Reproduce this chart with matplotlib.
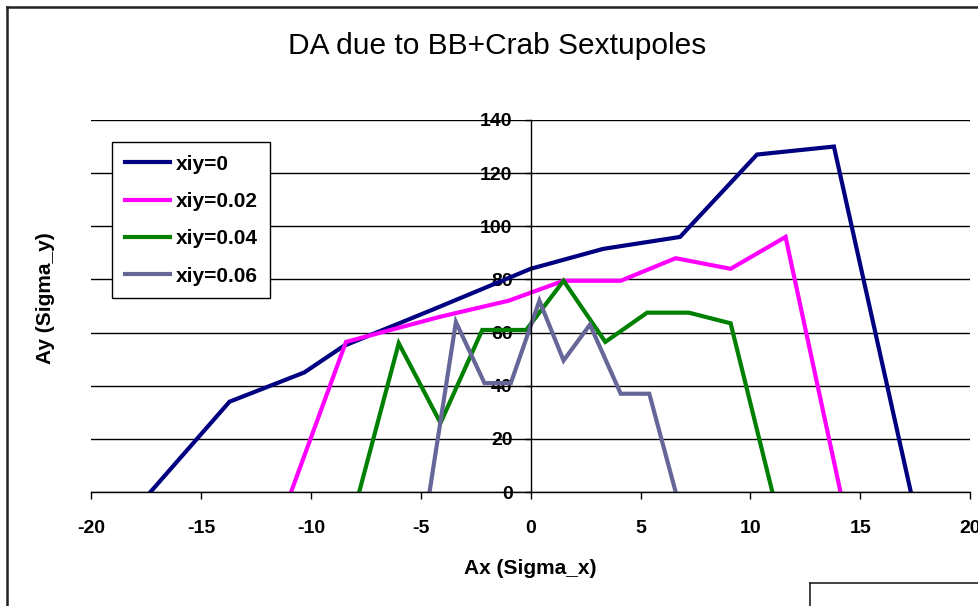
import matplotlib.pyplot as plt
from matplotlib.lines import Line2D

plt.rcParams["font.family"] = ["Liberation Sans", "DejaVu Sans"]
plt.rcParams["axes.unicode_minus"] = False

# dynamic aperture boundaries, one series per vertical chromaticity
xiy_0_ax = [-17.3, -13.7, -10.3, -8.5, -4.5, 0.0, 3.3, 6.8, 10.3, 13.8, 17.3]
xiy_0_ay = [0, 34, 45, 55, 68.5, 84, 91.5, 96, 127, 130, 0]

xiy_002_ax = [-10.9, -8.4, -4.1, -1.0, 1.5, 4.1, 6.6, 9.1, 11.6, 14.1]
xiy_002_ay = [0, 56.5, 66, 72, 79.5, 79.5, 88, 84, 96, 0]

xiy_004_ax = [-7.8, -6.0, -4.1, -2.2, -0.2, 1.5, 3.4, 5.3, 7.2, 9.1, 11.0]
xiy_004_ay = [0, 56, 26, 61, 61, 79.5, 56.5, 67.5, 67.5, 63.5, 0]

xiy_006_ax = [-4.6, -3.4, -2.1, -0.9, 0.4, 1.5, 2.7, 4.1, 5.4, 6.6]
xiy_006_ay = [0, 64, 41, 41, 72, 49.5, 63, 37, 37, 0]

series = [
    ("xiy=0", xiy_0_ax, xiy_0_ay, "#000080"),
    ("xiy=0.02", xiy_002_ax, xiy_002_ay, "#FF00FF"),
    ("xiy=0.04", xiy_004_ax, xiy_004_ay, "#008000"),
    ("xiy=0.06", xiy_006_ax, xiy_006_ay, "#666699"),
]

fig = plt.figure(figsize=(9.79, 6.06), dpi=100)
ax = fig.add_axes([0.093, 0.188, 0.898, 0.614])

for label, xs, ys, color in series:
    ax.plot(xs, ys, color=color, lw=3.0, label=label, solid_joinstyle="miter")

ax.set_xlim(-20, 20)
ax.set_ylim(0, 140)
ax.set_xticks(range(-20, 21, 5))
ax.set_yticks(range(0, 141, 20))
ax.grid(axis="y", color="black", lw=1.0)
ax.set_axisbelow(True)

for side in ("top", "right"):
    ax.spines[side].set_visible(False)
ax.spines["left"].set_position(("data", 0))
ax.spines["left"].set_linewidth(1.0)
ax.spines["bottom"].set_linewidth(1.0)

ax.tick_params(axis="x", direction="out", length=5, width=1, pad=15,
               labelsize=14)
ax.tick_params(axis="y", direction="out", length=4, width=1, pad=9,
               labelsize=14)
for t in ax.get_xticklabels() + ax.get_yticklabels():
    t.set_fontweight("bold")

ax.set_xlabel("Ax (Sigma_x)", fontsize=15, fontweight="bold")
ax.set_ylabel("Ay (Sigma_y)", fontsize=15, fontweight="bold")
ax.xaxis.set_label_coords(0.5, -0.18)
ax.yaxis.set_label_coords(-0.041, 0.52)

fig.text(0.508, 0.924, "DA due to BB+Crab Sextupoles", ha="center",
         va="center", fontsize=21.5)

leg = ax.legend(loc="upper left", bbox_to_anchor=(112 / 979, 1 - 142 / 606),
                bbox_transform=fig.transFigure, borderaxespad=0,
                fancybox=False, edgecolor="black", framealpha=1,
                prop={"weight": "bold", "size": 15}, handlelength=2.2,
                handletextpad=0.25, labelspacing=0.88, borderpad=0.6)
leg.get_frame().set_linewidth(1.0)

# chart border and neighbouring box edges
fig.add_artist(Line2D([7 / 979, 7 / 979], [0, 1 - 7 / 606],
                      transform=fig.transFigure, color="#222222", lw=1.8))
fig.add_artist(Line2D([7 / 979, 1], [1 - 7 / 606, 1 - 7 / 606],
                      transform=fig.transFigure, color="#222222", lw=1.8))
fig.add_artist(Line2D([810 / 979, 810 / 979], [0, 1 - 583 / 606],
                      transform=fig.transFigure, color="#222222", lw=1.2))
fig.add_artist(Line2D([810 / 979, 1], [1 - 583 / 606, 1 - 583 / 606],
                      transform=fig.transFigure, color="#222222", lw=1.2))

fig.savefig("out.png", dpi=100)
